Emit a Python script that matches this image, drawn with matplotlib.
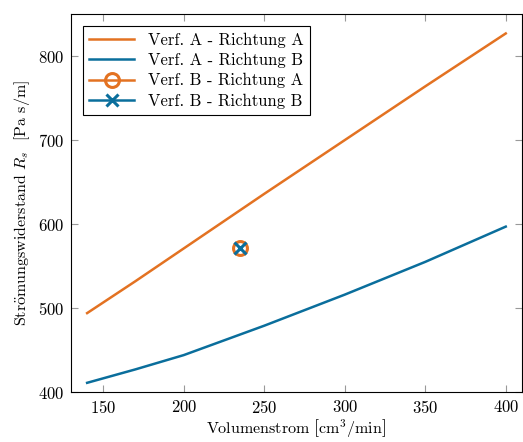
import numpy as np
import matplotlib
matplotlib.use("Agg")
import matplotlib.pyplot as plt

plt.rcParams['font.family'] = ['cmr10', 'DejaVu Serif']
plt.rcParams['mathtext.fontset'] = 'cm'
plt.rcParams['axes.formatter.use_mathtext'] = True

q = [140, 170, 200, 250, 300, 350, 400]
rs_a_ra = [494, 532, 571, 636, 700, 764, 827]
rs_a_rb = [411, 427, 444, 479, 516, 555, 597]

q_b = [235]
rs_b_ra = [572]
rs_b_rb = [572]

orange = '#E37222'
blau = '#0A6E9C'

fig = plt.figure(figsize=(5.23, 4.42), dpi=100)
ax = fig.add_axes([0.1358, 0.113, 0.862, 0.855])

ax.plot(q, rs_a_ra, color=orange, lw=1.8, label='Verf. A - Richtung A')
ax.plot(q, rs_a_rb, color=blau, lw=1.8, label='Verf. A - Richtung B')
ax.plot(q_b, rs_b_ra, color=orange, lw=1.8, marker='o', ms=10, mfc='none',
        mew=2.2, label='Verf. B - Richtung A')
ax.plot(q_b, rs_b_rb, color=blau, lw=1.8, marker='x', ms=8, mew=2.2,
        label='Verf. B - Richtung B')

ax.set_xlim(130, 410)
ax.set_ylim(400, 850)
ax.set_xticks([150, 200, 250, 300, 350, 400])
ax.set_yticks([400, 500, 600, 700, 800])

ax.tick_params(direction='in', top=True, right=True, length=5, width=0.8,
               color='#999999', labelsize=12, pad=5)
for s in ax.spines.values():
    s.set_linewidth(0.8)

ax.set_xlabel(r'Volumenstrom $\left[\mathrm{cm}^3/\mathrm{min}\right]$',
              fontsize=11.5, labelpad=1)
ax.set_ylabel(r'$\mathrm{Str\ddot{o}mungswiderstand}$ $R_s$  [Pa s/m]', fontsize=11.5)

leg = ax.legend(loc='upper left', fontsize=12, fancybox=False, framealpha=1,
                edgecolor='black', handlelength=2.7, borderaxespad=0.7,
                labelspacing=0.3)
leg.get_frame().set_linewidth(0.8)

fig.savefig('out.png', dpi=100)
